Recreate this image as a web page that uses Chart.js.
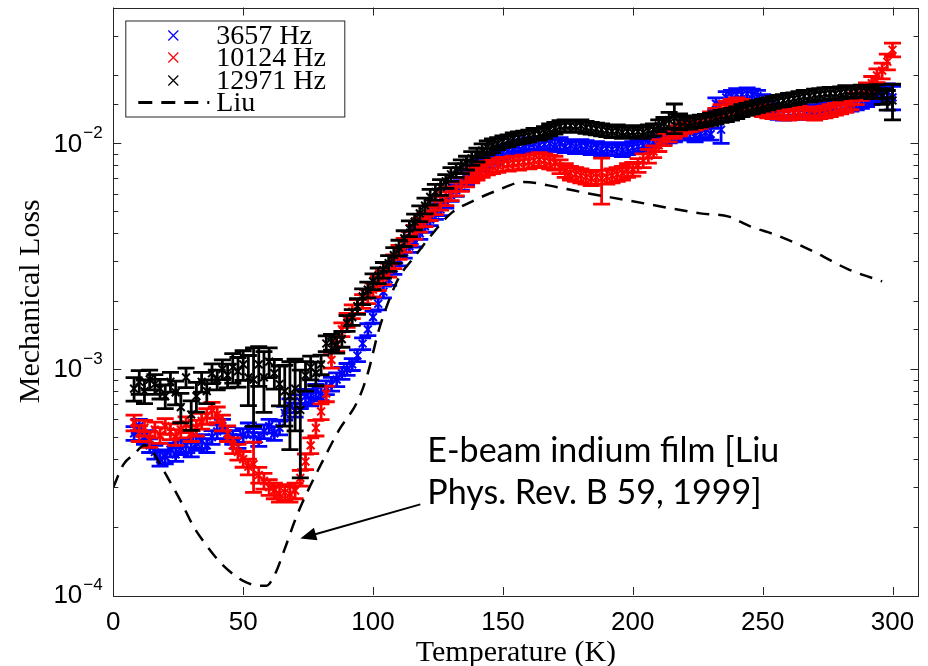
<!DOCTYPE html>
<html><head><meta charset="utf-8">
<script src="https://cdn.jsdelivr.net/npm/chart.js@4.4.1/dist/chart.umd.min.js"></script>
<style>html,body{margin:0;padding:0;background:#fff;}canvas{display:block;}</style>
</head><body>
<canvas id="c" width="928" height="666"></canvas>
<script>
// ---------- data ----------
const temps = [
  8,10,12,14,16,18,20,22,24,26,
  28,30,32,34,36,38,40,42,44,46,
  48,50,52,54,56,58,60,62,64,66,
  68,70,72,74,76,78,80,82,84,86,
  88,90,92,94,96,98,100,102,104,106,
  108,110,112,114,116,118,120,122,124,126,
  128,130,132,134,136,138,140,142,144,146,
  148,150,152,154,156,158,160,162,164,166,
  168,170,172,174,176,178,180,182,184,186,
  188,190,192,194,196,198,200,202,204,206,
  208,210,212,214,216,218,220,222,224,226,
  228,230,232,234,236,238,240,242,244,246,
  248,250,252,254,256,258,260,262,264,266,
  268,270,272,274,276,278,280,282,284,286,
  288,290,292,294,296,298,300];

const lossBlue = [
  5.2e-4,5.6e-4,5.0e-4,4.6e-4,4.3e-4,4.0e-4,4.1e-4,4.4e-4,4.2e-4,4.5e-4,
  4.6e-4,4.4e-4,4.7e-4,4.8e-4,4.6e-4,5.0e-4,5.3e-4,5.6e-4,5.2e-4,5.0e-4,
  4.8e-4,5.1e-4,5.4e-4,5.1e-4,4.9e-4,5.3e-4,5.6e-4,5.2e-4,5.5e-4,6.4e-4,
  6.9e-4,6.6e-4,7.2e-4,7.6e-4,7.4e-4,8.0e-4,7.8e-4,8.3e-4,8.6e-4,9.0e-4,
  9.6e-4,1.0e-3,1.05e-3,1.15e-3,1.3e-3,1.5e-3,1.7e-3,1.95e-3,2.2e-3,2.5e-3,
  2.8e-3,3.05e-3,3.3e-3,3.5e-3,3.7e-3,4.0e-3,4.3e-3,4.6e-3,4.9e-3,5.1e-3,
  5.5e-3,5.9e-3,6.2e-3,6.6e-3,7.0e-3,7.3e-3,7.6e-3,8.0e-3,8.3e-3,8.6e-3,
  8.9e-3,9.1e-3,9.3e-3,9.5e-3,9.7e-3,9.8e-3,1.0e-2,1.0e-2,9.8e-3,9.9e-3,
  1.0e-2,9.8e-3,1.0e-2,9.7e-3,9.8e-3,9.6e-3,9.8e-3,9.7e-3,9.5e-3,9.6e-3,
  9.4e-3,9.5e-3,9.4e-3,9.5e-3,9.3e-3,9.5e-3,9.6e-3,9.7e-3,9.8e-3,1.0e-2,
  1.02e-2,1.04e-2,1.05e-2,1.07e-2,1.08e-2,1.1e-2,1.1e-2,1.12e-2,1.08e-2,1.1e-2,
  1.12e-2,1.1e-2,1.5e-2,1.15e-2,1.6e-2,1.62e-2,1.65e-2,1.64e-2,1.66e-2,1.64e-2,
  1.62e-2,1.55e-2,1.45e-2,1.4e-2,1.36e-2,1.35e-2,1.36e-2,1.37e-2,1.36e-2,1.38e-2,
  1.4e-2,1.39e-2,1.4e-2,1.42e-2,1.43e-2,1.44e-2,1.45e-2,1.47e-2,1.48e-2,1.5e-2,
  1.52e-2,1.55e-2,1.58e-2,1.62e-2,1.66e-2,1.7e-2,1.6e-2];
const errBlue = [ // percent
  7,7,7,7,7,7,7,7,7,7, 7,7,7,7,7,7,7,7,7,7, 7,7,7,7,7,7,7,7,7,7, 7,7,7,7,7,7,7,7,7,7,
  6,6,6,6,6,6,6,6,6,6, 6,6,6,6,6,6,6,6,6,6, 6,6,6,6,6,6,6,6,6,6, 6,6,6,6,6,6,6,6,6,6,
  6,6,6,6,6,6,6,6,6,6, 6,6,6,6,6,6,6,6,6,6, 6,6,6,6,6,6,6,6,6,6,
  6,6,6,13,6,6,6,6,6,6, 6,6,6,6,6,6,6,6,6,6, 6,6,6,6,6,6,6,6,6,6,
  6,6,6,6,7,8,12];

const lossRed = [
  5.8e-4,5.2e-4,5.5e-4,4.9e-4,5.4e-4,5.1e-4,5.6e-4,5.3e-4,5.0e-4,5.4e-4,
  5.7e-4,5.2e-4,5.5e-4,5.9e-4,6.2e-4,6.6e-4,6.3e-4,5.8e-4,5.2e-4,4.6e-4,
  4.3e-4,4.0e-4,3.7e-4,3.8e-4,3.4e-4,3.2e-4,3.0e-4,2.9e-4,2.8e-4,2.85e-4,
  2.8e-4,2.9e-4,3.3e-4,3.9e-4,4.6e-4,5.5e-4,6.5e-4,7.8e-4,1.1e-3,1.3e-3,
  1.5e-3,1.65e-3,1.8e-3,1.9e-3,2.0e-3,2.1e-3,2.25e-3,2.4e-3,2.55e-3,2.75e-3,
  3.0e-3,3.3e-3,3.55e-3,3.8e-3,4.05e-3,4.35e-3,4.6e-3,4.9e-3,5.2e-3,5.45e-3,
  5.7e-3,6.0e-3,6.3e-3,6.6e-3,6.9e-3,7.2e-3,7.4e-3,7.6e-3,7.8e-3,7.9e-3,
  8.0e-3,8.1e-3,8.1e-3,8.2e-3,8.2e-3,8.3e-3,8.3e-3,8.4e-3,8.5e-3,8.4e-3,
  8.3e-3,8.2e-3,7.9e-3,7.6e-3,7.4e-3,7.3e-3,7.2e-3,7.1e-3,7.0e-3,7.1e-3,
  7.0e-3,7.1e-3,7.2e-3,7.3e-3,7.4e-3,7.6e-3,7.7e-3,8.0e-3,8.4e-3,8.8e-3,
  9.2e-3,9.8e-3,1.04e-2,1.08e-2,1.12e-2,1.15e-2,1.18e-2,1.2e-2,1.22e-2,1.24e-2,
  1.27e-2,1.3e-2,1.35e-2,1.4e-2,1.45e-2,1.48e-2,1.5e-2,1.48e-2,1.45e-2,1.44e-2,
  1.42e-2,1.4e-2,1.38e-2,1.37e-2,1.38e-2,1.36e-2,1.35e-2,1.36e-2,1.38e-2,1.37e-2,
  1.36e-2,1.35e-2,1.37e-2,1.38e-2,1.4e-2,1.42e-2,1.44e-2,1.46e-2,1.5e-2,1.58e-2,
  1.65e-2,1.75e-2,1.85e-2,2.0e-2,2.1e-2,2.3e-2,2.6e-2];
const errRed = [
  8,8,8,8,8,8,8,8,8,8, 8,8,8,8,8,8,8,8,8,8, 8,8,8,25,8,8,8,8,8,8, 8,8,8,8,8,8,8,8,8,8,
  7,7,7,7,7,7,7,7,7,7, 7,7,7,7,7,7,7,7,7,7, 7,7,7,7,7,7,7,7,7,7, 7,7,7,7,7,7,7,7,7,7,
  7,7,7,7,7,7,7,7,7,7, 23,7,7,7,7,7,7,7,7,7,
  6,6,6,6,6,6,6,6,6,6, 6,6,6,6,6,6,6,6,6,6, 6,6,6,6,6,6,6,6,6,6, 6,6,6,6,6,6,6,6,6,6,
  6,6,7,7,8,8,7];

const lossBlack = [
  8.2e-4,8.8e-4,8.0e-4,9.0e-4,8.6e-4,8.2e-4,7.6e-4,8.8e-4,7.9e-4,6.8e-4,
  9.2e-4,6.3e-4,7.6e-4,8.8e-4,8.0e-4,9.6e-4,9.0e-4,1.0e-3,9.4e-4,1.02e-3,
  9.8e-4,1.05e-3,9.2e-4,9.0e-4,1.05e-3,9.2e-4,1.08e-3,9.6e-4,8.6e-4,8.0e-4,
  7.6e-4,8.2e-4,6.6e-4,9.4e-4,1.02e-3,9.6e-4,1.05e-3,1.3e-3,1.32e-3,1.28e-3,
  1.36e-3,1.6e-3,1.7e-3,1.9e-3,2.1e-3,2.25e-3,2.45e-3,2.6e-3,2.75e-3,2.95e-3,
  3.2e-3,3.45e-3,3.8e-3,4.2e-3,4.5e-3,4.9e-3,5.3e-3,5.8e-3,6.1e-3,6.4e-3,
  6.8e-3,7.3e-3,7.6e-3,7.9e-3,8.2e-3,8.6e-3,8.9e-3,9.3e-3,9.6e-3,9.8e-3,
  1.0e-2,1.02e-2,1.03e-2,1.05e-2,1.06e-2,1.07e-2,1.08e-2,1.1e-2,1.1e-2,1.12e-2,
  1.15e-2,1.17e-2,1.19e-2,1.2e-2,1.2e-2,1.19e-2,1.2e-2,1.18e-2,1.17e-2,1.16e-2,
  1.15e-2,1.14e-2,1.13e-2,1.14e-2,1.12e-2,1.13e-2,1.12e-2,1.13e-2,1.12e-2,1.14e-2,
  1.15e-2,1.2e-2,1.23e-2,1.27e-2,1.3e-2,1.25e-2,1.24e-2,1.23e-2,1.25e-2,1.26e-2,
  1.27e-2,1.28e-2,1.3e-2,1.32e-2,1.33e-2,1.35e-2,1.37e-2,1.4e-2,1.42e-2,1.44e-2,
  1.46e-2,1.48e-2,1.5e-2,1.52e-2,1.54e-2,1.55e-2,1.57e-2,1.58e-2,1.6e-2,1.62e-2,
  1.62e-2,1.64e-2,1.65e-2,1.66e-2,1.67e-2,1.66e-2,1.68e-2,1.7e-2,1.69e-2,1.7e-2,
  1.71e-2,1.7e-2,1.68e-2,1.7e-2,1.62e-2,1.56e-2,1.55e-2];
const errBlack = [
  12,12,12,10,10,10,12,10,12,15, 10,15,15,10,12,10,10,10,12,15,
  15,15,25,38,20,30,15,15,20,30, 42,35,50,15,12,12,10,8,8,8,
  8,8,8,8,8,8,8,8,8,8, 8,8,8,8,8,8,8,8,8,8, 7,7,7,7,7,7,7,7,7,7,
  6,6,6,6,6,6,6,6,6,6, 6,6,6,6,6,6,6,6,6,6, 6,6,6,6,6,6,6,6,6,6,
  6,6,6,8,15,8,6,6,6,6, 6,6,6,6,6,6,6,6,6,6, 6,6,6,6,6,6,6,6,6,6,
  6,6,6,6,6,6,6,6,6,6, 6,6,6,7,8,10,18];

const liuTemps = [0,4,8,12,14,18,21,26,31,36,41,46,51,56,59,62,66,70,74,81,87,94,98,102,106,110,116,122,130,139,148,158,171,183,198,213,226,237,245,256,270,283,296];
const liuLoss = [3.0e-4,3.8e-4,4.2e-4,4.6e-4,4.5e-4,3.8e-4,3.3e-4,2.6e-4,2.0e-4,1.65e-4,1.4e-4,1.24e-4,1.14e-4,1.1e-4,1.1e-4,1.22e-4,1.6e-4,2.15e-4,2.75e-4,4.0e-4,5.4e-4,7.2e-4,9.6e-4,1.46e-3,2.0e-3,2.55e-3,3.15e-3,3.87e-3,4.9e-3,5.6e-3,6.2e-3,6.75e-3,6.4e-3,6.0e-3,5.6e-3,5.2e-3,4.9e-3,4.74e-3,4.3e-3,3.9e-3,3.3e-3,2.77e-3,2.45e-3];

const xTickValues = [0,50,100,150,200,250,300];
const yMajorValues = [1e-4,1e-3,1e-2];
const yMajorLabels = [['10','\u22124'],['10','\u22123'],['10','\u22122']];
const seriesLabels = ['3657 Hz','10124 Hz','12971 Hz','Liu'];
const annotationLines = ['E-beam indium film [Liu','Phys. Rev. B 59, 1999]'];
// annotation anchors in data units (T, loss)
const annotationText = {x: 120.9, y1: 3.89e-4, y2: 2.54e-4};
const annotationArrow = {fromX: 118.2, fromY: 2.52e-4, toX: 72.0, toY: 1.78e-4};

// ---------- helpers ----------
const toPts = (xs, ys) => xs.map((t, i) => ({x: t, y: ys[i]}));
const AX = '#262626';
const serif = '"Liberation Serif", "Times New Roman", serif';

const errorBars = {
  id: 'errorBars',
  beforeDatasetDraw(chart, args) {
    const ds = chart.data.datasets[args.index];
    if (!ds.errPct) return;
    const {ctx, chartArea: a, scales: {x, y}} = chart;
    ctx.save();
    ctx.beginPath(); ctx.rect(a.left, a.top, a.right - a.left, a.bottom - a.top); ctx.clip();
    ctx.strokeStyle = ds.borderColor; ctx.lineWidth = 2.8;
    ctx.beginPath();
    ds.data.forEach((p, i) => {
      const f = ds.errPct[i] / 100;
      const px = x.getPixelForValue(p.x);
      const yh = y.getPixelForValue(p.y * (1 + f));
      const yl = y.getPixelForValue(p.y * (1 - f));
      ctx.moveTo(px, yh); ctx.lineTo(px, yl);
      ctx.moveTo(px - 8.5, yh); ctx.lineTo(px + 8.5, yh);
      ctx.moveTo(px - 8.5, yl); ctx.lineTo(px + 8.5, yl);
    });
    ctx.stroke();
    ctx.restore();
  }
};

const frame = {
  id: 'frame',
  afterDatasetsDraw(chart) {
    const {ctx, chartArea: a, scales: {x, y}} = chart;
    ctx.save();
    ctx.strokeStyle = AX; ctx.lineWidth = 1;
    ctx.beginPath();
    x.ticks.forEach(t => {
      const px = Math.round(x.getPixelForValue(t.value)) + 0.5;
      ctx.moveTo(px, a.bottom); ctx.lineTo(px, a.bottom - 8);
      ctx.moveTo(px, a.top); ctx.lineTo(px, a.top + 8);
    });
    y.ticks.forEach(t => {
      const v = t.value;
      const m = Math.round(v / Math.pow(10, Math.floor(Math.log10(v) + 1e-9)));
      const len = m === 1 ? 8 : 5;
      const py = Math.round(y.getPixelForValue(v)) + 0.5;
      if (py < a.top + 1 || py > a.bottom) return;
      ctx.moveTo(a.left, py); ctx.lineTo(a.left + len, py);
      ctx.moveTo(a.right, py); ctx.lineTo(a.right - len, py);
    });
    ctx.stroke();
    ctx.strokeRect(Math.round(a.left) + 0.5, Math.round(a.top) + 0.5,
                   Math.round(a.right - a.left), Math.round(a.bottom - a.top));
    // y labels with superscript exponent
    ctx.fillStyle = '#000';
    ctx.textBaseline = 'middle';
    yMajorValues.forEach((v, i) => {
      const py = y.getPixelForValue(v);
      ctx.font = '26px "Liberation Sans", Arial, sans-serif';
      ctx.textAlign = 'right';
      ctx.fillText(yMajorLabels[i][0], a.left - 31, py + 1);
      ctx.font = '17px "Liberation Sans", Arial, sans-serif';
      ctx.textAlign = 'left';
      ctx.fillText(yMajorLabels[i][1], a.left - 30, py - 10);
    });
    ctx.restore();
  }
};

const legendBox = {
  id: 'legendBox',
  afterDraw(chart) {
    const {ctx, chartArea: a} = chart;
    const L = a.left + 12, T = a.top + 13, W = 219, H = 96;
    ctx.save();
    ctx.fillStyle = '#fff';
    ctx.fillRect(L, T, W, H);
    ctx.strokeStyle = AX; ctx.lineWidth = 1;
    ctx.strokeRect(L + 0.5, T + 0.5, W, H);
    const rows = [T + 15, T + 37, T + 60, T + 82];
    const cols = ['#0000ff', '#ff0000', '#000000'];
    ctx.font = '28px ' + serif;
    ctx.textBaseline = 'middle'; ctx.textAlign = 'left'; ctx.fillStyle = '#000';
    for (let i = 0; i < 3; i++) {
      const cx = L + 48, cy = rows[i];
      ctx.strokeStyle = cols[i]; ctx.lineWidth = 1.2;
      ctx.beginPath();
      ctx.moveTo(cx - 5, cy - 5); ctx.lineTo(cx + 5, cy + 5);
      ctx.moveTo(cx - 5, cy + 5); ctx.lineTo(cx + 5, cy - 5);
      ctx.stroke();
      ctx.fillText(seriesLabels[i], L + 91, cy + 1);
    }
    ctx.strokeStyle = '#000'; ctx.lineWidth = 3; ctx.setLineDash([14, 9]);
    ctx.beginPath(); ctx.moveTo(L + 13, rows[3]); ctx.lineTo(L + 84, rows[3]); ctx.stroke();
    ctx.setLineDash([]);
    ctx.fillText(seriesLabels[3], L + 91, rows[3] + 1);
    ctx.restore();
  }
};

const note = {
  id: 'note',
  afterDraw(chart) {
    const {ctx, scales: {x, y}} = chart;
    ctx.save();
    ctx.fillStyle = '#000'; ctx.textAlign = 'left'; ctx.textBaseline = 'alphabetic';
    ctx.font = '30px Lato, "Open Sans", sans-serif';
    const w = ctx.measureText(annotationLines[0]).width;
    const size = 30 * 352 / w;
    ctx.font = size.toFixed(2) + 'px Lato, "Open Sans", sans-serif';
    const tx = x.getPixelForValue(annotationText.x);
    ctx.fillText(annotationLines[0], tx, y.getPixelForValue(annotationText.y1));
    ctx.fillText(annotationLines[1], tx, y.getPixelForValue(annotationText.y2));
    const x1 = x.getPixelForValue(annotationArrow.fromX), y1 = y.getPixelForValue(annotationArrow.fromY);
    const x2 = x.getPixelForValue(annotationArrow.toX), y2 = y.getPixelForValue(annotationArrow.toY);
    const ang = Math.atan2(y2 - y1, x2 - x1);
    const hl = 16, hw = 6.5;
    ctx.strokeStyle = '#000'; ctx.lineWidth = 2;
    ctx.beginPath(); ctx.moveTo(x1, y1);
    ctx.lineTo(x2 - Math.cos(ang) * hl * 0.8, y2 - Math.sin(ang) * hl * 0.8); ctx.stroke();
    ctx.beginPath();
    ctx.moveTo(x2, y2);
    ctx.lineTo(x2 - Math.cos(ang) * hl + Math.sin(ang) * hw, y2 - Math.sin(ang) * hl - Math.cos(ang) * hw);
    ctx.lineTo(x2 - Math.cos(ang) * hl - Math.sin(ang) * hw, y2 - Math.sin(ang) * hl + Math.cos(ang) * hw);
    ctx.closePath(); ctx.fill();
    ctx.restore();
  }
};

const pointSeries = (label, data, err, color) => ({
  label, data, errPct: err, borderColor: color, backgroundColor: color,
  showLine: false, pointStyle: 'crossRot', pointRadius: 5.5, pointBorderWidth: 2,
  pointHoverRadius: 5.5
});

new Chart(document.getElementById('c'), {
  type: 'scatter',
  data: {
    datasets: [
      { label: seriesLabels[3], data: toPts(liuTemps, liuLoss), showLine: true,
        borderColor: '#000', borderWidth: 2.5, borderDash: [13, 9], pointRadius: 0,
        cubicInterpolationMode: 'monotone', fill: false },
      pointSeries(seriesLabels[2], toPts(temps, lossBlack), errBlack, '#000000'),
      pointSeries(seriesLabels[1], toPts(temps, lossRed), errRed, '#ff0000'),
      pointSeries(seriesLabels[0], toPts(temps, lossBlue), errBlue, '#0000ff')
    ]
  },
  options: {
    responsive: false, animation: false, devicePixelRatio: 1,
    layout: { padding: { left: 0, right: 9.5, top: 7, bottom: 0 } },
    plugins: { legend: { display: false }, tooltip: { enabled: false } },
    scales: {
      x: {
        type: 'linear', min: 0, max: 310,
        afterBuildTicks: s => { s.ticks = xTickValues.map(v => ({value: v})); },
        ticks: { color: '#000', padding: 12, maxRotation: 0, autoSkip: false,
                 font: { family: '"Liberation Sans", Arial, sans-serif', size: 26 } },
        grid: { display: false, drawTicks: false }, border: { display: false },
        title: { display: true, text: 'Temperature (K)', color: '#000',
                 font: { family: serif, size: 30, lineHeight: 0.8 }, padding: { top: 0, bottom: 1 } },
        afterFit: s => { s.height = 71; }
      },
      y: {
        type: 'logarithmic', min: 1e-4, max: 0.04,
        ticks: { display: false },
        grid: { display: false, drawTicks: false }, border: { display: false },
        title: { display: true, text: 'Mechanical Loss', color: '#000',
                 font: { family: serif, size: 30, lineHeight: 1 }, padding: { top: 16, bottom: 0 } },
        afterFit: s => { s.width = 113.3; }
      }
    }
  },
  plugins: [errorBars, frame, legendBox, note]
});
</script>
</body></html>
